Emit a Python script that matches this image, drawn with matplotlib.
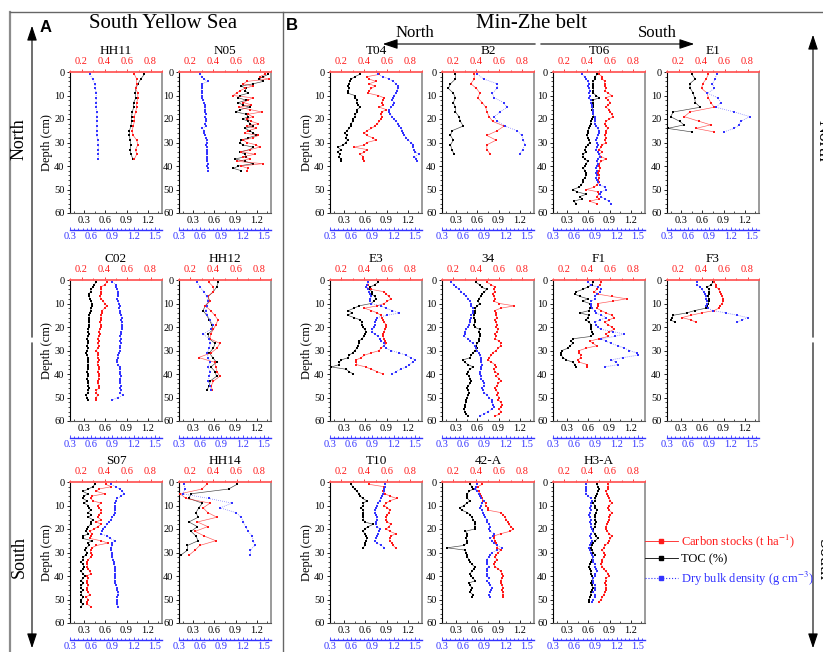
import matplotlib
matplotlib.use('Agg')
import matplotlib.pyplot as plt
from matplotlib.ticker import MultipleLocator, FixedLocator
from matplotlib.lines import Line2D
from matplotlib.patches import FancyArrowPatch

plt.rcParams['font.family'] = ['Liberation Serif', 'DejaVu Serif']
plt.rcParams['mathtext.fontset'] = 'stix'
plt.rcParams['axes.linewidth'] = 0.8

RED = '#FF1A1A'
BLUE = '#3333FF'
BLACK = '#000000'

# ---------------- data (depth in cm; TOC %, carbon stock t/ha, DBD g/cm3) -------------
HH11_depth = [1, 3, 5, 7, 9, 11, 13, 15, 17, 19, 21, 23, 25, 27, 29, 31, 33, 35, 37]
HH11_toc = [1.15, 1.10, 1.06, 1.03, 1.02, 1.03, 1.00, 1.00, 0.98, 0.97, 0.97, 0.96, 0.94, 0.94, 0.95, 0.96, 0.95, 0.96, 0.99]
HH11_cs = [0.66, 0.68, 0.68, 0.67, 0.69, 0.69, 0.68, 0.68, 0.67, 0.66, 0.66, 0.65, 0.64, 0.65, 0.68, 0.69, 0.67, 0.68, 0.66]
HH11_bd = [0.58, 0.62, 0.65, 0.66, 0.67, 0.67, 0.67, 0.67, 0.68, 0.68, 0.68, 0.68, 0.68, 0.68, 0.69, 0.70, 0.70, 0.70, 0.70]

N05_depth = [1, 2, 3, 4, 5, 6, 7, 8, 9, 10, 11, 12, 13, 14, 15, 16, 17, 18, 19, 20, 21,
             22, 23, 24, 25, 26, 27, 28, 29, 30, 31, 32, 33, 34, 35, 36, 37, 38, 39, 40, 41, 42]
N05_toc = [1.36, 1.29, 1.23, 1.29, 1.15, 0.98, 1.05, 1.03, 1.08, 0.96, 0.94, 1.05, 0.94, 1.00, 1.10, 0.96, 0.91, 1.05, 1.08, 1.00,
           1.08, 1.10, 1.15, 1.03, 1.10, 1.15, 1.19, 1.08, 0.98, 0.96, 1.00, 1.15, 1.10, 0.96, 1.03, 1.05, 0.89, 1.03, 1.15, 0.94, 0.87, 0.98]
N05_cs = [0.85, 0.80, 0.88, 0.69, 0.66, 0.74, 0.67, 0.63, 0.60, 0.57, 0.74, 0.70, 0.66, 0.73, 0.62, 0.72, 0.82, 0.70, 0.74, 0.69,
          0.73, 0.79, 0.69, 0.77, 0.70, 0.67, 0.79, 0.74, 0.66, 0.69, 0.77, 0.80, 0.72, 0.64, 0.76, 0.66, 0.72, 0.60, 0.83, 0.64, 0.70, 0.69]
N05_bd = [0.59, 0.62, 0.65, 0.71, 0.63, 0.62, 0.62, 0.62, 0.62, 0.62, 0.62, 0.64, 0.65, 0.67, 0.67, 0.67, 0.67, 0.68, 0.67, 0.68,
          0.68, 0.67, 0.68, 0.63, 0.65, 0.65, 0.67, 0.68, 0.69, 0.69, 0.68, 0.69, 0.70, 0.70, 0.69, 0.70, 0.70, 0.70, 0.71, 0.70, 0.71, 0.71]

C02_depth = [1, 2, 3, 4, 5, 6, 7, 8, 9, 10, 11, 12, 13, 14, 15, 16, 17, 18, 19, 20, 21, 22, 23, 24, 25, 26,
             27, 28, 29, 30, 31, 32, 33, 34, 35, 36, 37, 38, 39, 40, 41, 42, 43, 44, 45, 46, 47, 48, 49, 50, 51]
C02_toc = [0.47, 0.44, 0.42, 0.40, 0.39, 0.37, 0.37, 0.38, 0.40, 0.41, 0.41, 0.40, 0.39, 0.38, 0.37, 0.37, 0.37, 0.37, 0.37, 0.37,
           0.36, 0.36, 0.37, 0.36, 0.34, 0.36, 0.35, 0.34, 0.35, 0.34, 0.33, 0.34, 0.35, 0.36, 0.36, 0.35, 0.36, 0.35, 0.34, 0.36,
           0.35, 0.34, 0.35, 0.36, 0.36, 0.37, 0.36, 0.35, 0.33, 0.34, 0.36]
C02_cs = [0.42, 0.40, 0.37, 0.37, 0.37, 0.37, 0.36, 0.37, 0.39, 0.40, 0.42, 0.40, 0.38, 0.38, 0.37, 0.37, 0.37, 0.36, 0.37, 0.37,
          0.36, 0.35, 0.36, 0.35, 0.34, 0.35, 0.34, 0.35, 0.34, 0.33, 0.34, 0.34, 0.34, 0.35, 0.34, 0.34, 0.35, 0.35, 0.34, 0.35,
          0.35, 0.35, 0.34, 0.34, 0.35, 0.35, 0.33, 0.33, 0.34, 0.33, 0.33]
C02_bd = [0.90, 0.95, 0.95, 0.97, 0.98, 0.98, 0.98, 0.97, 0.98, 0.99, 1.00, 0.99, 1.00, 1.01, 1.02, 1.03, 1.02, 1.03, 1.03, 1.03,
          1.04, 1.02, 1.02, 1.01, 1.02, 1.01, 1.02, 1.01, 1.00, 1.01, 0.99, 0.98, 0.98, 0.97, 0.97, 0.98, 1.00, 1.01, 1.00, 1.01,
          1.02, 1.01, 1.00, 1.01, 1.02, 1.01, 1.02, 1.01, 1.05, 0.98, 0.90]

HH12_depth = [1, 3, 5, 7, 9, 11, 13, 15, 17, 19, 21, 23, 25, 27, 29, 31, 33, 35, 37, 39, 41, 43, 45, 47]
HH12_toc = [0.655, 0.63, 0.585, 0.51, 0.53, 0.47, 0.44, 0.49, 0.53, 0.56, 0.585, 0.51, 0.53, 0.61, 0.585, 0.53, 0.575, 0.63,
            0.55, 0.61, 0.63, 0.54, 0.53, 0.49]
HH12_cs = [0.36, 0.40, 0.40, 0.35, 0.37, 0.33, 0.375, 0.41, 0.44, 0.42, 0.40, 0.375, 0.37, 0.455, 0.43, 0.38, 0.27, 0.41,
           0.42, 0.43, 0.455, 0.40, 0.38, 0.39]
HH12_bd = [0.55, 0.60, 0.65, 0.69, 0.71, 0.69, 0.68, 0.70, 0.74, 0.78, 0.75, 0.64, 0.73, 0.74, 0.73, 0.70, 0.71, 0.74,
           0.71, 0.74, 0.73, 0.71, 0.74, 0.75]

S07_depth = [1, 2, 3, 4, 5, 6, 7, 8, 9, 10, 11, 12, 13, 14, 15, 16, 17, 18, 19, 20, 21, 22, 23, 24, 25, 26, 27,
             28, 29, 30, 31, 32, 33, 34, 35, 36, 37, 38, 39, 40, 41, 42, 43, 44, 45, 46, 47, 48, 49, 50, 51, 52, 53]
S07_toc = [0.45, 0.42, 0.36, 0.28, 0.35, 0.30, 0.28, 0.34, 0.30, 0.36, 0.37, 0.39, 0.36, 0.40, 0.36, 0.42, 0.40, 0.39, 0.36, 0.34,
           0.33, 0.36, 0.29, 0.28, 0.41, 0.35, 0.37, 0.33, 0.31, 0.34, 0.33, 0.28, 0.29, 0.26, 0.28, 0.30, 0.28, 0.26, 0.28, 0.31,
           0.28, 0.26, 0.29, 0.26, 0.25, 0.28, 0.26, 0.26, 0.29, 0.26, 0.25, 0.28, 0.26]
S07_cs = [0.41, 0.46, 0.35, 0.33, 0.40, 0.29, 0.28, 0.30, 0.37, 0.34, 0.35, 0.37, 0.37, 0.35, 0.34, 0.37, 0.33, 0.37, 0.34, 0.31,
          0.27, 0.29, 0.28, 0.27, 0.37, 0.43, 0.33, 0.29, 0.28, 0.28, 0.29, 0.28, 0.26, 0.25, 0.25, 0.25, 0.26, 0.27, 0.28, 0.25,
          0.26, 0.25, 0.25, 0.26, 0.25, 0.25, 0.26, 0.27, 0.24, 0.26, 0.25, 0.25, 0.28]
S07_bd = [0.88, 0.95, 1.00, 1.04, 1.07, 1.02, 0.97, 0.95, 0.93, 0.93, 0.93, 0.93, 0.93, 0.92, 0.90, 0.88, 0.85, 0.82, 0.79, 0.76,
          0.75, 0.74, 0.82, 0.87, 0.93, 0.90, 0.90, 0.88, 0.88, 0.89, 0.89, 0.90, 0.91, 0.92, 0.92, 0.93, 0.93, 0.94, 0.94, 0.94,
          0.93, 0.93, 0.94, 0.95, 0.96, 0.97, 0.98, 0.98, 0.97, 0.96, 0.97, 0.97, 0.98]

HH14_depth = [1, 3, 5, 7, 9, 11, 13, 15, 17, 19, 21, 23, 25, 27, 29, 31]
HH14_toc = [0.92, 0.80, 0.27, 0.24, 0.43, 0.38, 0.34, 0.37, 0.24, 0.36, 0.27, 0.34, 0.37, 0.22, 0.22, 0.13]
HH14_cs = [0.34, 0.30, 0.11, 0.16, 0.37, 0.31, 0.35, 0.43, 0.26, 0.35, 0.24, 0.32, 0.42, 0.28, 0.24, 0.19]
HH14_bd = [0.37, 0.39, 0.35, 0.72, 1.05, 0.88, 1.10, 1.18, 1.21, 1.24, 1.28, 1.33, 1.35, 1.37, 1.31, 1.31]

T04_depth = [1, 2, 3, 4, 5, 6, 7, 8, 9, 10, 11, 12, 13, 14, 15, 16, 17, 18, 19, 20,
             21, 22, 23, 24, 25, 26, 27, 28, 29, 30, 31, 32, 33, 34, 35, 36, 37, 38]
T04_toc = [0.52, 0.45, 0.40, 0.38, 0.37, 0.36, 0.37, 0.36, 0.35, 0.45, 0.46, 0.48, 0.48, 0.49, 0.53, 0.48, 0.48, 0.46, 0.45, 0.43,
           0.42, 0.40, 0.39, 0.37, 0.34, 0.31, 0.34, 0.32, 0.35, 0.32, 0.29, 0.21, 0.25, 0.21, 0.24, 0.23, 0.25, 0.26]
T04_cs = [0.53, 0.42, 0.44, 0.50, 0.44, 0.49, 0.46, 0.44, 0.43, 0.52, 0.57, 0.56, 0.55, 0.56, 0.53, 0.59, 0.55, 0.54, 0.55, 0.54,
          0.53, 0.51, 0.49, 0.46, 0.42, 0.40, 0.42, 0.47, 0.50, 0.42, 0.40, 0.31, 0.42, 0.40, 0.36, 0.39, 0.39, 0.40]
T04_bd = [0.98, 1.05, 1.14, 1.19, 1.23, 1.26, 1.26, 1.24, 1.23, 1.21, 1.19, 1.18, 1.21, 1.19, 1.16, 1.14, 1.13, 1.15, 1.18, 1.20,
          1.23, 1.26, 1.28, 1.31, 1.32, 1.33, 1.35, 1.38, 1.40, 1.45, 1.47, 1.47, 1.48, 1.50, 1.56, 1.49, 1.52, 1.53]

B2_depth = [1, 3, 5, 7, 9, 11, 13, 15, 17, 19, 21, 23, 25, 27, 29, 31, 33, 35]
B2_toc = [0.29, 0.29, 0.22, 0.19, 0.26, 0.29, 0.26, 0.29, 0.29, 0.34, 0.36, 0.40, 0.24, 0.22, 0.26, 0.22, 0.24, 0.27]
B2_cs = [0.38, 0.38, 0.35, 0.40, 0.43, 0.41, 0.45, 0.48, 0.49, 0.51, 0.54, 0.64, 0.58, 0.49, 0.57, 0.49, 0.49, 0.52]
B2_bd = [0.80, 0.89, 1.08, 1.08, 1.01, 1.04, 1.17, 1.22, 1.12, 1.04, 1.08, 1.19, 1.36, 1.43, 1.45, 1.47, 1.44, 1.40]

T06_depth = [1, 2, 3, 4, 5, 6, 7, 8, 9, 10, 11, 12, 13, 14, 15, 16, 17, 18, 19, 20, 21, 22, 23, 24, 25, 26, 27, 28,
             29, 30, 31, 32, 33, 34, 35, 36, 37, 38, 39, 40, 41, 42, 43, 44, 45, 46, 47, 48, 49, 50, 51, 52, 53, 54, 55, 56]
T06_toc = [0.72, 0.70, 0.69, 0.67, 0.66, 0.66, 0.67, 0.67, 0.67, 0.71, 0.75, 0.66, 0.67, 0.66, 0.66, 0.65, 0.66, 0.67, 0.67, 0.65,
           0.64, 0.63, 0.62, 0.61, 0.59, 0.59, 0.58, 0.59, 0.61, 0.62, 0.59, 0.57, 0.55, 0.56, 0.53, 0.52, 0.55, 0.59, 0.57, 0.55,
           0.53, 0.55, 0.56, 0.57, 0.55, 0.52, 0.52, 0.50, 0.47, 0.38, 0.44, 0.57, 0.48, 0.51, 0.39, 0.43]
T06_cs = [0.50, 0.53, 0.53, 0.55, 0.55, 0.55, 0.56, 0.55, 0.58, 0.61, 0.56, 0.58, 0.60, 0.58, 0.56, 0.59, 0.60, 0.61, 0.62, 0.59,
          0.56, 0.55, 0.56, 0.58, 0.56, 0.56, 0.55, 0.56, 0.55, 0.56, 0.53, 0.52, 0.50, 0.53, 0.50, 0.52, 0.56, 0.52, 0.50, 0.50,
          0.51, 0.50, 0.49, 0.50, 0.50, 0.49, 0.50, 0.48, 0.46, 0.39, 0.49, 0.50, 0.48, 0.50, 0.42, 0.48]
T06_bd = [0.71, 0.75, 0.77, 0.79, 0.81, 0.79, 0.81, 0.82, 0.81, 0.82, 0.81, 0.83, 0.84, 0.85, 0.85, 0.86, 0.87, 0.87, 0.89, 0.90,
          0.89, 0.89, 0.91, 0.93, 0.95, 0.95, 0.93, 0.92, 0.91, 0.92, 0.93, 0.92, 0.91, 0.93, 0.95, 0.96, 0.93, 0.92, 0.93, 0.92,
          0.91, 0.92, 0.91, 0.92, 0.91, 0.92, 0.93, 0.96, 1.03, 1.05, 0.98, 0.96, 0.98, 1.03, 1.09, 1.12]

E1_depth = [1, 3, 5, 7, 9, 11, 13, 15, 17, 19, 21, 22.5, 24, 25.5]
E1_toc = [0.45, 0.50, 0.42, 0.43, 0.47, 0.49, 0.50, 0.57, 0.19, 0.15, 0.28, 0.34, 0.11, 0.45]
E1_cs = [0.46, 0.44, 0.41, 0.40, 0.45, 0.46, 0.48, 0.51, 0.30, 0.25, 0.38, 0.48, 0.35, 0.51]
E1_bd = [1.00, 0.98, 0.94, 0.97, 0.87, 1.02, 1.06, 0.99, 1.25, 1.47, 1.34, 1.32, 1.25, 1.10]

E3_depth = [1, 2, 3, 4, 5, 6, 7, 8, 9, 10, 11, 12, 13, 14, 15, 16, 17, 18, 19, 20,
            21, 22, 23, 24, 25, 26, 27, 28, 29, 30, 31, 32, 33, 34, 35, 36, 37, 38, 39, 40]
E3_toc = [0.78, 0.73, 0.67, 0.65, 0.70, 0.69, 0.73, 0.75, 0.72, 0.68, 0.51, 0.44, 0.36, 0.41, 0.35, 0.44, 0.53, 0.55, 0.55, 0.56,
          0.59, 0.61, 0.59, 0.58, 0.55, 0.51, 0.51, 0.50, 0.48, 0.45, 0.42, 0.37, 0.36, 0.26, 0.23, 0.23, 0.12, 0.33, 0.37, 0.43]
E3_cs = [0.43, 0.43, 0.41, 0.46, 0.57, 0.59, 0.61, 0.63, 0.60, 0.57, 0.51, 0.40, 0.46, 0.51, 0.54, 0.55, 0.56, 0.57, 0.59, 0.59,
         0.58, 0.57, 0.56, 0.56, 0.57, 0.58, 0.59, 0.57, 0.54, 0.53, 0.46, 0.40, 0.37, 0.33, 0.33, 0.33, 0.41, 0.46, 0.51, 0.56]
E3_bd = [0.83, 0.82, 0.81, 0.84, 0.85, 0.87, 0.88, 0.87, 0.87, 0.88, 1.02, 1.09, 1.18, 1.28, 1.11, 0.96, 0.95, 0.93, 0.93, 0.92,
         0.90, 0.89, 0.93, 0.98, 1.00, 1.02, 1.07, 1.06, 1.09, 1.16, 1.28, 1.37, 1.44, 1.50, 1.47, 1.42, 1.37, 1.30, 1.23, 1.18]

S34_depth = [1, 2, 3, 4, 5, 6, 7, 8, 9, 10, 11, 12, 13, 14, 15, 16, 17, 18, 19, 20, 21, 22, 23, 24, 25, 26, 27, 28, 29,
             30, 31, 32, 33, 34, 35, 36, 37, 38, 39, 40, 41, 42, 43, 44, 45, 46, 47, 48, 49, 50, 51, 52, 53, 54, 55, 56, 57, 58]
S34_toc = [0.58, 0.63, 0.66, 0.73, 0.70, 0.66, 0.65, 0.62, 0.61, 0.63, 0.60, 0.57, 0.57, 0.56, 0.55, 0.55, 0.56, 0.57, 0.55, 0.56,
           0.63, 0.62, 0.63, 0.63, 0.62, 0.62, 0.60, 0.58, 0.60, 0.57, 0.54, 0.51, 0.50, 0.40, 0.42, 0.47, 0.54, 0.49, 0.47, 0.46,
           0.48, 0.50, 0.51, 0.50, 0.47, 0.46, 0.47, 0.48, 0.47, 0.46, 0.44, 0.44, 0.43, 0.42, 0.41, 0.42, 0.44, 0.47]
S34_cs = [0.49, 0.53, 0.56, 0.55, 0.56, 0.54, 0.55, 0.56, 0.55, 0.60, 0.73, 0.61, 0.56, 0.57, 0.57, 0.58, 0.56, 0.57, 0.58, 0.57,
          0.59, 0.58, 0.56, 0.57, 0.56, 0.60, 0.61, 0.61, 0.59, 0.57, 0.54, 0.53, 0.51, 0.50, 0.53, 0.56, 0.57, 0.55, 0.56, 0.59,
          0.57, 0.60, 0.61, 0.59, 0.58, 0.56, 0.57, 0.59, 0.58, 0.60, 0.59, 0.61, 0.62, 0.61, 0.60, 0.61, 0.60, 0.56]
S34_bd = [0.43, 0.47, 0.50, 0.54, 0.57, 0.61, 0.64, 0.67, 0.69, 0.71, 0.71, 0.74, 0.74, 0.74, 0.71, 0.71, 0.70, 0.69, 0.68, 0.67,
          0.64, 0.63, 0.62, 0.61, 0.67, 0.70, 0.74, 0.76, 0.78, 0.80, 0.82, 0.83, 0.85, 0.85, 0.85, 0.86, 0.85, 0.85, 0.83, 0.83,
          0.85, 0.85, 0.88, 0.90, 0.89, 0.86, 0.88, 0.90, 0.94, 0.96, 1.00, 1.01, 1.02, 1.03, 1.00, 0.95, 0.89, 0.83]

F1_depth = [1, 2, 3, 4, 5, 6, 7, 8, 9, 10, 11, 12, 13, 14, 15, 16, 17, 18, 19,
            20, 21, 22, 23, 24, 25, 26, 27, 28, 29, 30, 31, 32, 33, 34, 35, 36, 37]
F1_toc = [0.67, 0.65, 0.59, 0.52, 0.43, 0.41, 0.48, 0.59, 0.52, 0.62, 0.63, 0.62, 0.61, 0.48, 0.61, 0.59, 0.57, 0.61, 0.64,
          0.64, 0.64, 0.65, 0.66, 0.64, 0.38, 0.36, 0.38, 0.34, 0.31, 0.23, 0.22, 0.22, 0.24, 0.29, 0.38, 0.41, 0.43]
F1_cs = [0.52, 0.51, 0.49, 0.48, 0.46, 0.49, 0.61, 0.74, 0.62, 0.49, 0.49, 0.48, 0.52, 0.56, 0.61, 0.63, 0.59, 0.55, 0.58,
         0.61, 0.63, 0.59, 0.56, 0.58, 0.50, 0.42, 0.45, 0.48, 0.39, 0.33, 0.33, 0.34, 0.34, 0.32, 0.33, 0.40, 0.40]
F1_bd = [0.79, 0.83, 0.93, 0.98, 0.96, 0.92, 0.89, 0.90, 0.84, 0.83, 0.84, 0.85, 0.89, 0.91, 0.98, 1.05, 0.96, 0.89, 0.91,
         0.93, 0.98, 1.15, 1.31, 1.17, 0.98, 1.05, 1.12, 1.22, 1.31, 1.38, 1.48, 1.50, 1.29, 1.12, 1.19, 1.22, 1.03]

F3_depth = [1, 2, 3, 4, 5, 6, 7, 8, 9, 10, 11, 12, 13, 14, 15, 16, 17, 18]
F3_toc = [0.75, 0.72, 0.67, 0.69, 0.70, 0.69, 0.68, 0.69, 0.69, 0.68, 0.67, 0.65, 0.49, 0.38, 0.19, 0.17, 0.15, 0.22]
F3_cs = [0.51, 0.53, 0.53, 0.55, 0.56, 0.57, 0.58, 0.59, 0.59, 0.58, 0.56, 0.55, 0.51, 0.40, 0.31, 0.23, 0.31, 0.35]
F3_bd = [0.72, 0.73, 0.77, 0.79, 0.82, 0.84, 0.85, 0.85, 0.86, 0.86, 0.85, 0.88, 0.95, 1.13, 1.29, 1.44, 1.36, 1.29]

T10_depth = [1, 2, 3, 4, 5, 6, 7, 8, 9, 10, 11, 12, 13, 14, 15, 16, 17, 18, 19, 20, 21, 22, 23, 24, 25, 26, 27, 28]
T10_toc = [0.40, 0.42, 0.45, 0.48, 0.51, 0.53, 0.56, 0.62, 0.57, 0.57, 0.54, 0.57, 0.57, 0.57, 0.57, 0.57, 0.59, 0.71, 0.64,
           0.59, 0.57, 0.59, 0.61, 0.62, 0.61, 0.60, 0.59, 0.57]
T10_cs = [0.44, 0.57, 0.57, 0.56, 0.58, 0.62, 0.68, 0.62, 0.59, 0.57, 0.60, 0.62, 0.61, 0.60, 0.59, 0.59, 0.60, 0.63, 0.61,
          0.59, 0.62, 0.67, 0.63, 0.62, 0.62, 0.64, 0.65, 0.67]
T10_bd = [1.08, 1.08, 1.07, 1.06, 1.05, 1.04, 1.02, 1.00, 0.98, 0.96, 0.95, 0.94, 0.94, 0.95, 0.96, 0.96, 0.95, 0.95, 0.96,
          1.00, 0.99, 0.98, 0.96, 0.95, 0.94, 0.96, 1.02, 1.07]

A42_depth = [1, 2, 3, 4, 5, 6, 7, 8, 9, 10, 11, 12, 13, 14, 15, 16, 17, 18, 19, 20, 21, 22, 23, 24, 25,
             26, 27, 28, 29, 30, 31, 32, 33, 34, 35, 36, 37, 38, 39, 40, 41, 42, 43, 44, 45, 46, 47, 48, 49]
A42_toc = [0.50, 0.52, 0.54, 0.48, 0.46, 0.45, 0.46, 0.49, 0.45, 0.41, 0.35, 0.38, 0.46, 0.50, 0.52, 0.54, 0.56, 0.56, 0.57, 0.56,
           0.43, 0.46, 0.45, 0.44, 0.46, 0.45, 0.41, 0.17, 0.43, 0.44, 0.45, 0.46, 0.48, 0.50, 0.52, 0.56, 0.55, 0.52, 0.50, 0.51,
           0.54, 0.57, 0.48, 0.50, 0.52, 0.51, 0.50, 0.54, 0.52]
A42_cs = [0.45, 0.41, 0.39, 0.42, 0.43, 0.44, 0.45, 0.46, 0.48, 0.48, 0.50, 0.50, 0.61, 0.63, 0.65, 0.66, 0.67, 0.68, 0.70, 0.72,
          0.69, 0.61, 0.55, 0.55, 0.56, 0.57, 0.58, 0.58, 0.61, 0.59, 0.57, 0.56, 0.58, 0.56, 0.55, 0.56, 0.59, 0.61, 0.62, 0.63,
          0.62, 0.61, 0.61, 0.62, 0.63, 0.62, 0.63, 0.63, 0.63]
A42_bd = [0.79, 0.78, 0.76, 0.79, 0.82, 0.84, 0.85, 0.89, 0.86, 0.85, 0.84, 0.86, 0.88, 0.89, 0.91, 0.93, 0.93, 0.96, 0.98, 0.96,
          0.98, 1.04, 1.02, 0.98, 1.01, 1.03, 1.08, 1.15, 1.08, 1.01, 0.98, 0.96, 0.93, 0.93, 0.94, 0.96, 0.93, 0.93, 0.93, 0.94,
          0.96, 0.94, 0.96, 0.98, 1.01, 0.99, 0.98, 0.97, 0.98]

H3A_depth = [1, 2, 3, 4, 5, 6, 7, 8, 9, 10, 11, 12, 13, 14, 15, 16, 17, 18, 19, 20, 21, 22, 23, 24, 25, 26,
             27, 28, 29, 30, 31, 32, 33, 34, 35, 36, 37, 38, 39, 40, 41, 42, 43, 44, 45, 46, 47, 48, 49, 50, 51]
H3A_toc = [0.72, 0.73, 0.75, 0.73, 0.72, 0.71, 0.70, 0.69, 0.67, 0.69, 0.70, 0.72, 0.71, 0.70, 0.69, 0.70, 0.71, 0.70, 0.69, 0.67,
           0.66, 0.69, 0.71, 0.73, 0.70, 0.66, 0.65, 0.64, 0.65, 0.67, 0.69, 0.66, 0.65, 0.64, 0.62, 0.61, 0.62, 0.63, 0.64, 0.65,
           0.66, 0.65, 0.64, 0.65, 0.66, 0.65, 0.64, 0.63, 0.62, 0.61, 0.61]
H3A_cs = [0.58, 0.58, 0.58, 0.56, 0.57, 0.58, 0.59, 0.60, 0.61, 0.59, 0.58, 0.59, 0.61, 0.60, 0.59, 0.59, 0.58, 0.57, 0.56, 0.56,
          0.57, 0.59, 0.61, 0.60, 0.59, 0.58, 0.55, 0.54, 0.53, 0.54, 0.55, 0.54, 0.53, 0.53, 0.52, 0.53, 0.54, 0.56, 0.58, 0.59,
          0.56, 0.56, 0.55, 0.56, 0.56, 0.56, 0.55, 0.54, 0.53, 0.52, 0.50]
H3A_bd = [0.77, 0.77, 0.76, 0.76, 0.77, 0.79, 0.84, 0.85, 0.84, 0.83, 0.82, 0.83, 0.82, 0.81, 0.82, 0.83, 0.82, 0.83, 0.84, 0.85,
          0.86, 0.84, 0.82, 0.84, 0.85, 0.84, 0.82, 0.81, 0.82, 0.83, 0.85, 0.87, 0.86, 0.87, 0.89, 0.90, 0.91, 0.92, 0.90, 0.89,
          0.87, 0.86, 0.87, 0.89, 0.90, 0.89, 0.87, 0.89, 0.90, 0.87, 0.85]

toc_ticks = [0.3, 0.6, 0.9, 1.2]
cs_ticks = [0.2, 0.4, 0.6, 0.8]
bd_ticks = [0.3, 0.6, 0.9, 1.2, 1.5]
depth_ticks = [0, 10, 20, 30, 40, 50, 60]

# ---------------- layout --------------------------------------------------------------
W, H = 823, 652
fig = plt.figure(figsize=(W / 100, H / 100), dpi=100)


def fx(x):
    return x / W


def fy(y):
    return 1 - y / H


PW, PH = 92, 141
colA = [70, 179]
colB = [330, 442, 553, 667]
rows = [72, 280, 482]

panels = [
    ('HH11', colA[0], rows[0], HH11_depth, HH11_toc, HH11_cs, HH11_bd, True),
    ('N05', colA[1], rows[0], N05_depth, N05_toc, N05_cs, N05_bd, False),
    ('C02', colA[0], rows[1], C02_depth, C02_toc, C02_cs, C02_bd, True),
    ('HH12', colA[1], rows[1], HH12_depth, HH12_toc, HH12_cs, HH12_bd, False),
    ('S07', colA[0], rows[2], S07_depth, S07_toc, S07_cs, S07_bd, True),
    ('HH14', colA[1], rows[2], HH14_depth, HH14_toc, HH14_cs, HH14_bd, False),
    ('T04', colB[0], rows[0], T04_depth, T04_toc, T04_cs, T04_bd, True),
    ('B2', colB[1], rows[0], B2_depth, B2_toc, B2_cs, B2_bd, False),
    ('T06', colB[2], rows[0], T06_depth, T06_toc, T06_cs, T06_bd, False),
    ('E1', colB[3], rows[0], E1_depth, E1_toc, E1_cs, E1_bd, False),
    ('E3', colB[0], rows[1], E3_depth, E3_toc, E3_cs, E3_bd, True),
    ('34', colB[1], rows[1], S34_depth, S34_toc, S34_cs, S34_bd, False),
    ('F1', colB[2], rows[1], F1_depth, F1_toc, F1_cs, F1_bd, False),
    ('F3', colB[3], rows[1], F3_depth, F3_toc, F3_cs, F3_bd, False),
    ('T10', colB[0], rows[2], T10_depth, T10_toc, T10_cs, T10_bd, True),
    ('42-A', colB[1], rows[2], A42_depth, A42_toc, A42_cs, A42_bd, False),
    ('H3-A', colB[2], rows[2], H3A_depth, H3A_toc, H3A_cs, H3A_bd, False),
]

MS = 1.8
TL = 7.5


def draw(name, left, top, depth, toc, cs, bd, ylab):
    ax = fig.add_axes([fx(left), fy(top + PH), PW / W, PH / H])
    ax.set_ylim(60, 0)
    ax.set_xlim(0.1, 1.4)
    ax.yaxis.set_major_locator(FixedLocator(depth_ticks))
    ax.yaxis.set_minor_locator(MultipleLocator(2))
    ax.xaxis.set_major_locator(FixedLocator(toc_ticks))
    ax.xaxis.set_minor_locator(MultipleLocator(0.15))
    ax.tick_params(axis='y', which='major', labelsize=TL, length=2.5, width=0.6, pad=1.5, direction='out')
    ax.tick_params(axis='y', which='minor', length=1.3, width=0.5, direction='out')
    ax.tick_params(axis='x', which='major', labelsize=TL, length=2.5, width=0.6, pad=2.5, direction='in')
    ax.tick_params(axis='x', which='minor', length=1.3, width=0.5, direction='in')
    ax.spines['top'].set_visible(False)
    ax.spines['right'].set_color('#8a8a8a')
    ax.spines['right'].set_linewidth(1.2)
    ax.spines['bottom'].set_color('#555555')
    if ylab:
        ax.set_ylabel('Depth (cm)', fontsize=9, labelpad=1)
    # red carbon stocks (top axis)
    ax2 = ax.twiny()
    ax2.set_xlim(0.1, 0.9)
    ax2.xaxis.set_major_locator(FixedLocator(cs_ticks))
    ax2.xaxis.set_minor_locator(MultipleLocator(0.1))
    for s in ['bottom', 'left', 'right']:
        ax2.spines[s].set_visible(False)
    ax2.spines['top'].set_color('#FF5A5A')
    ax2.spines['top'].set_linewidth(1.3)
    ax2.tick_params(axis='x', which='both', colors=RED, labelsize=TL, pad=1.5, width=0.6, direction='out')
    ax2.tick_params(axis='x', which='major', length=2.5)
    ax2.tick_params(axis='x', which='minor', length=1.3)
    # blue dry bulk density (offset bottom axis)
    ax3 = ax.twiny()
    ax3.set_xlim(0.3, 1.6)
    ax3.xaxis.set_ticks_position('bottom')
    ax3.xaxis.set_label_position('bottom')
    ax3.spines['bottom'].set_position(('outward', 12.5))
    for s in ['top', 'left', 'right']:
        ax3.spines[s].set_visible(False)
    ax3.spines['bottom'].set_visible(True)
    ax3.spines['bottom'].set_color(BLUE)
    ax3.spines['bottom'].set_linewidth(1.0)
    ax3.xaxis.set_major_locator(FixedLocator(bd_ticks))
    ax3.xaxis.set_minor_locator(MultipleLocator(0.06))
    ax3.tick_params(axis='x', which='both', colors=BLUE, labelsize=TL, pad=1.5, width=0.6, direction='in')
    ax3.tick_params(axis='x', which='major', length=2.5)
    ax3.tick_params(axis='x', which='minor', length=1.5)

    ax2.plot(cs, depth, '-', color=RED, lw=0.45, alpha=0.75)
    ax2.plot(cs, depth, 's', color=RED, ms=MS, mew=0)
    ax.plot(toc, depth, '-', color=BLACK, lw=0.45, alpha=0.75)
    ax.plot(toc, depth, 's', color=BLACK, ms=MS, mew=0)
    ax3.plot(bd, depth, ':', color=BLUE, lw=0.55, alpha=0.7)
    ax3.plot(bd, depth, 's', color=BLUE, ms=MS * 0.85, mew=0)
    ax.set_title(name, fontsize=9.5, pad=1.5)


for p in panels:
    draw(*p)

# ---------------- frame, headings, arrows -----------------------------------------------
line_kw = dict(transform=fig.transFigure, color='#666666')
fig.add_artist(Line2D([fx(10), fx(10)], [fy(12), fy(652)], lw=1.6, color='#8c8c8c', transform=fig.transFigure))
fig.add_artist(Line2D([fx(10), fx(823)], [fy(12), fy(12)], lw=1.0, **line_kw))
fig.add_artist(Line2D([fx(283), fx(283)], [fy(12), fy(652)], lw=1.0, **line_kw))

fig.text(fx(46), fy(27), 'A', fontsize=12, fontweight='bold', family=['Liberation Sans', 'DejaVu Sans'],
         ha='center', va='center')
fig.text(fx(292), fy(26), 'B', fontsize=12, fontweight='bold', family=['Liberation Sans', 'DejaVu Sans'],
         ha='center', va='center')
fig.text(fx(163), fy(24), 'South Yellow Sea', fontsize=15, ha='center', va='center')
fig.text(fx(531), fy(23), 'Min-Zhe belt', fontsize=15, ha='center', va='center')
fig.text(fx(415), fy(33), 'North', fontsize=12, ha='center', va='center')
fig.text(fx(657), fy(33), 'South', fontsize=12, ha='center', va='center')

arr_kw = dict(transform=fig.transFigure, arrowstyle='-|>,head_length=0.9,head_width=0.3',
              mutation_scale=10, color='black', lw=0.8)
# horizontal north-south arrow (Min-Zhe belt)
fig.add_artist(FancyArrowPatch((fx(538), fy(44)), (fx(380), fy(44)), **arr_kw))
fig.add_artist(FancyArrowPatch((fx(538), fy(44)), (fx(697), fy(44)), **arr_kw))
# left vertical arrow
fig.add_artist(FancyArrowPatch((fx(32), fy(340)), (fx(32), fy(23)), **arr_kw))
fig.add_artist(FancyArrowPatch((fx(32), fy(340)), (fx(32), fy(651)), **arr_kw))
# right vertical arrow
fig.add_artist(FancyArrowPatch((fx(813), fy(340)), (fx(813), fy(32)), **arr_kw))
fig.add_artist(FancyArrowPatch((fx(813), fy(340)), (fx(813), fy(651)), **arr_kw))

fig.text(fx(19), fy(139), 'North', fontsize=13, rotation=90, ha='center', va='center')
fig.text(fx(19), fy(557), 'South', fontsize=13, rotation=90, ha='center', va='center')
fig.text(fx(823), fy(141), 'North', fontsize=13, rotation=270, ha='center', va='center')
fig.text(fx(823), fy(560), 'South', fontsize=13, rotation=270, ha='center', va='center')

# ---------------- legend ----------------------------------------------------------------
handles = [Line2D([], [], color=RED, lw=0.6, marker='s', ms=2.4),
           Line2D([], [], color=BLACK, lw=0.6, marker='s', ms=2.4),
           Line2D([], [], color=BLUE, lw=0.8, ls=':', marker='s', ms=2.2)]
labels = ['Carbon stocks (t ha$^{-1}$)', 'TOC (%)', 'Dry bulk density (g cm$^{-3}$)']
fig.legend(handles, labels, loc='center left', bbox_to_anchor=(fx(645), fy(560)),
           frameon=False, fontsize=9, labelcolor=[RED, BLACK, BLUE], handlelength=2.6,
           handletextpad=0.25, labelspacing=0.3, borderpad=0, borderaxespad=0, numpoints=1)

fig.savefig('out.png', dpi=100)
